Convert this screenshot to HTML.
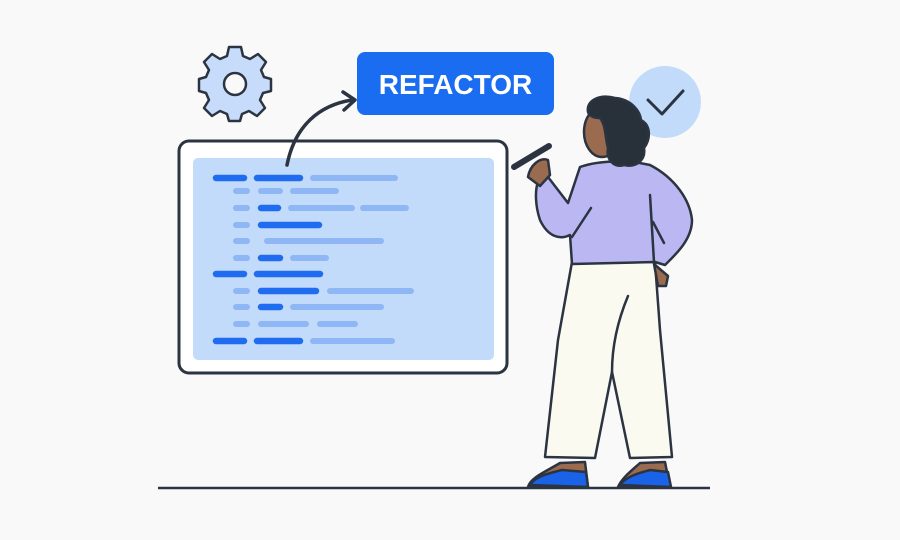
<!DOCTYPE html>
<html><head><style>html,body{margin:0;padding:0;background:#f9f9fa;}svg{display:block}</style></head>
<body>
<svg width="900" height="540" viewBox="0 0 900 540" xmlns="http://www.w3.org/2000/svg">
<rect width="900" height="540" fill="#f9f9fa"/>
<!-- gear -->
<g transform="translate(235,84)" fill="#c7dcfa" stroke="#2b3440" stroke-width="2.5" stroke-linejoin="round">
<path d="M-6,-34 L6,-34 L8,-25 L15,-22 L23,-27 L31,-19 L26,-11 L29,-4 L36,-2 L36,10 L28,12 L25,19 L30,27 L22,35 L14,30 L7,33 L5,40 L-6,40 L-8,33 L-15,30 L-23,35 L-31,27 L-26,19 L-29,12 L-36,10 L-36,-2 L-29,-4 L-26,-11 L-31,-19 L-23,-27 L-15,-22 L-8,-25 Z" transform="translate(0,-3)"/>
<circle cx="0" cy="0" r="11" fill="#f9f9fa"/>
</g>
<!-- button -->
<rect x="357" y="52" width="197" height="63" rx="8" fill="#1a6cf0"/>
<text x="455.5" y="94" text-anchor="middle" font-family="Liberation Sans, sans-serif" font-weight="bold" font-size="28" fill="#fff">REFACTOR</text>
<!-- panel -->
<rect x="179" y="141" width="328" height="232" rx="10" fill="#fff" stroke="#2b3440" stroke-width="3"/>
<rect x="193" y="158" width="301" height="202" rx="5" fill="#c3dbfa"/>
<!-- arrow -->
<path d="M287,165 C295,125 320,105 352,100" fill="none" stroke="#2b3440" stroke-width="3.5" stroke-linecap="round"/>
<path d="M343,92 L355,100 L344,110" fill="none" stroke="#2b3440" stroke-width="3.5" stroke-linecap="round" stroke-linejoin="round"/>
<g stroke-linecap="round" stroke-width="6.5">
<g stroke="#1f6cf0">
<line x1="216" y1="178" x2="244" y2="178"/><line x1="257" y1="178" x2="300" y2="178"/>
<line x1="261" y1="208" x2="278" y2="208"/>
<line x1="261" y1="225" x2="319" y2="225"/>
<line x1="261" y1="258" x2="280" y2="258"/>
<line x1="216" y1="274" x2="244" y2="274"/><line x1="257" y1="274" x2="320" y2="274"/>
<line x1="261" y1="291" x2="316" y2="291"/>
<line x1="261" y1="307" x2="280" y2="307"/>
<line x1="216" y1="341" x2="244" y2="341"/><line x1="257" y1="341" x2="300" y2="341"/>
</g>
<g stroke="#8fb6f5" stroke-width="6">
<line x1="313" y1="178" x2="395" y2="178"/>
<line x1="236" y1="191" x2="247" y2="191"/><line x1="261" y1="191" x2="280" y2="191"/><line x1="293" y1="191" x2="336" y2="191"/>
<line x1="236" y1="208" x2="247" y2="208"/><line x1="291" y1="208" x2="352" y2="208"/><line x1="363" y1="208" x2="406" y2="208"/>
<line x1="236" y1="225" x2="247" y2="225"/>
<line x1="236" y1="241" x2="247" y2="241"/><line x1="267" y1="241" x2="381" y2="241"/>
<line x1="236" y1="258" x2="247" y2="258"/><line x1="293" y1="258" x2="326" y2="258"/>
<line x1="236" y1="291" x2="247" y2="291"/><line x1="330" y1="291" x2="411" y2="291"/>
<line x1="236" y1="307" x2="247" y2="307"/><line x1="293" y1="307" x2="381" y2="307"/>
<line x1="236" y1="324" x2="247" y2="324"/><line x1="261" y1="324" x2="306" y2="324"/><line x1="320" y1="324" x2="355" y2="324"/>
<line x1="313" y1="341" x2="392" y2="341"/>
</g>
</g>
<!-- check circle -->
<circle cx="665" cy="102" r="36" fill="#c3dbfa"/>
<path d="M648,100 L662,114 L683,91" fill="none" stroke="#2b3440" stroke-width="3" stroke-linecap="round" stroke-linejoin="round"/>
<!-- ground -->
<line x1="158" y1="488" x2="710" y2="488" stroke="#2b3440" stroke-width="2.5"/>
<g stroke="#2b3440" stroke-width="2.5" stroke-linejoin="round" stroke-linecap="round">
<!-- shoes -->
<path d="M560,463 L585,462 L588,487 L528,487 C530,478 545,472 560,463 Z" fill="#9b6b50"/>
<path d="M530,485 C535,476 550,473 562,470 L586,472 L588,487 Z" fill="#1a63e8"/>
<path d="M640,463 L665,462 L670,487 L618,487 C622,478 630,472 640,463 Z" fill="#9b6b50"/>
<path d="M620,485 C626,476 640,473 650,470 L668,472 L671,487 Z" fill="#1a63e8"/>
<!-- pants -->
<path d="M572,262 L655,262 L660,330 L672,457 L630,458 L612,372 L595,458 L545,457 L558,340 Z" fill="#fbfaf0"/>
<path d="M628,296 C618,320 612,345 612,372" fill="none"/>
<!-- hand right -->
<path d="M654,264 L668,276 L666,286 L658,286 Z" fill="#9b6b50"/>
<!-- shirt -->
<path d="M580,167 C600,160 630,160 650,165 C675,178 690,200 692,220 C692,240 675,255 665,265 L655,262 L572,264 L570,235 C560,240 548,237 540,220 C535,205 535,190 538,182 L548,177 L568,203 Z" fill="#bab7f3"/>
<path d="M650,195 L654,262" fill="none"/>
<path d="M653,222 L664,243" fill="none"/>
<path d="M591,208 L572,237" fill="none"/>
<!-- left hand + pen -->
<path d="M528,177 C530,165 540,157 548,160 L550,175 L540,186 Z" fill="#9b6b50"/>
<path d="M514,167 L549,146" stroke-width="6" stroke="#2b3440"/>
<!-- head -->
<ellipse cx="602" cy="132" rx="18" ry="25" fill="#9b6b50"/>
<path d="M588,112 C586,100 600,94 615,98 C630,99 640,110 641,120 C652,126 650,140 644,148 C646,160 636,168 624,165 C614,168 606,160 608,148 C605,138 606,125 600,118 C594,118 589,116 588,112 Z" fill="#283039"/>
</g>
</svg>
</body></html>
